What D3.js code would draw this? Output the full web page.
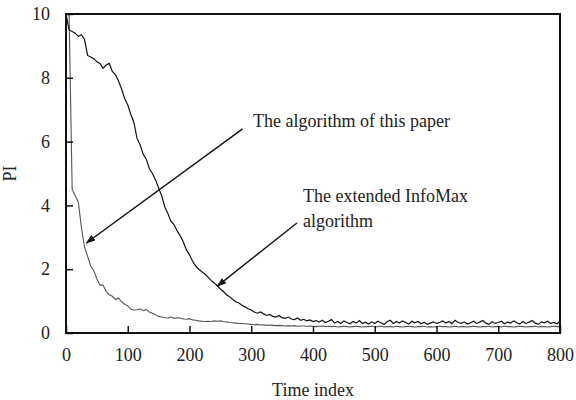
<!DOCTYPE html>
<html>
<head>
<meta charset="utf-8">
<script src="https://cdn.jsdelivr.net/npm/d3@7"></script>
<style>
  body { margin: 0; background: #fff; }
  text { font-family: "Liberation Serif", "Times New Roman", serif; fill: #222; }
</style>
</head>
<body>
<script>
// time index, one sample every 5 steps
const timeIndex = d3.range(0, 805, 5);

// extended InfoMax (dark curve)
const infomax = [
  10, 9.5, 9.45, 9.4, 9.3, 9.35, 9.2, 8.7, 8.65, 8.6,
  8.5, 8.45, 8.3, 8.4, 8.45, 8.2, 8.1, 7.9, 7.65, 7.35,
  7.15, 6.85, 6.6, 6.1, 5.9, 5.6, 5.45, 5.15, 5.0, 4.8,
  4.55, 4.3, 3.95, 3.75, 3.5, 3.4, 3.2, 3.05, 2.85, 2.6,
  2.45, 2.25, 2.1, 2.0, 1.92, 1.85, 1.75, 1.65, 1.57, 1.48,
  1.38, 1.3, 1.2, 1.14, 1.05, 0.98, 0.94, 0.87, 0.82, 0.76,
  0.72, 0.66, 0.62, 0.66, 0.6, 0.55, 0.58, 0.52, 0.5, 0.55,
  0.48, 0.46, 0.5, 0.44, 0.42, 0.47, 0.4, 0.43, 0.38, 0.41,
  0.36, 0.39, 0.34, 0.4, 0.33, 0.37, 0.42, 0.31, 0.36, 0.3,
  0.38, 0.33, 0.29, 0.36, 0.31, 0.39, 0.3, 0.34, 0.28, 0.35,
  0.3, 0.37, 0.32, 0.27, 0.35, 0.4, 0.3, 0.36, 0.31, 0.38,
  0.33, 0.28, 0.37, 0.32, 0.36, 0.29, 0.34, 0.27, 0.31, 0.35,
  0.3, 0.33, 0.38, 0.31, 0.36, 0.29, 0.4, 0.33, 0.3, 0.35,
  0.28, 0.32, 0.37, 0.3, 0.34, 0.39, 0.31, 0.27, 0.35, 0.3,
  0.33, 0.37, 0.29, 0.34, 0.31, 0.38, 0.32, 0.28, 0.36, 0.3,
  0.34, 0.39, 0.31, 0.27, 0.35, 0.32, 0.37, 0.3, 0.33, 0.29,
  0.36
];

// algorithm of this paper (grey curve)
const proposed = [
  10, 10, 4.5, 4.3, 4.1, 3.3, 2.7, 2.4, 2.1, 1.95,
  1.7, 1.5, 1.5, 1.3, 1.2, 1.15, 1.05, 1.1, 0.98, 0.9,
  0.85, 0.75, 0.72, 0.73, 0.76, 0.7, 0.74, 0.66, 0.62, 0.57,
  0.52, 0.5, 0.48, 0.47, 0.5, 0.46, 0.48, 0.47, 0.44, 0.43,
  0.45, 0.41, 0.4, 0.38, 0.37, 0.36, 0.37, 0.36, 0.38, 0.37,
  0.38, 0.36, 0.35, 0.33, 0.32, 0.31, 0.3, 0.3, 0.29, 0.28,
  0.27, 0.26, 0.27, 0.25, 0.26, 0.24, 0.25, 0.24, 0.23, 0.24,
  0.23, 0.22, 0.23, 0.22, 0.23, 0.21, 0.22, 0.22, 0.21, 0.22,
  0.21, 0.2, 0.21, 0.22, 0.2, 0.21, 0.2, 0.21, 0.19, 0.2,
  0.21, 0.2, 0.19, 0.2, 0.21, 0.2, 0.19, 0.2, 0.2, 0.21,
  0.19, 0.2, 0.21, 0.19, 0.2, 0.2, 0.19, 0.21, 0.2, 0.19,
  0.2, 0.21, 0.2, 0.19, 0.2, 0.2, 0.21, 0.19, 0.2, 0.19,
  0.2, 0.21, 0.2, 0.2, 0.19, 0.2, 0.21, 0.19, 0.2, 0.2,
  0.19, 0.2, 0.21, 0.2, 0.19, 0.2, 0.2, 0.21, 0.19, 0.2,
  0.2, 0.19, 0.21, 0.2, 0.2, 0.19, 0.2, 0.21, 0.2, 0.19,
  0.2, 0.2, 0.21, 0.19, 0.2, 0.2, 0.19, 0.2, 0.21, 0.2,
  0.2
];

const xTicks = [0, 100, 200, 300, 400, 500, 600, 700, 800];
const yTicks = [0, 2, 4, 6, 8, 10];

// annotations in data units
const notes = [
  { lines: ['The algorithm of this paper'], tx: 303, ty: 6.46, from: [286, 6.4], to: [33, 2.82] },
  { lines: ['The extended InfoMax', 'algorithm'], tx: 384, ty: 4.1, from: [374, 3.45], to: [245, 1.47] }
];

const width = 576, height = 400;
const margin = { top: 14, right: 16, bottom: 67, left: 66 };
const fontSize = 18;

const svg = d3.select('body').append('svg').attr('width', width).attr('height', height);

const x = d3.scaleLinear().domain([0, 800]).range([margin.left, width - margin.right]);
const y = d3.scaleLinear().domain([0, 10]).range([height - margin.bottom, margin.top]);

svg.append('defs').append('marker')
  .attr('id', 'arrow')
  .attr('viewBox', '0 0 10 10')
  .attr('refX', 9).attr('refY', 5)
  .attr('markerWidth', 7).attr('markerHeight', 7)
  .attr('orient', 'auto')
  .append('path').attr('d', 'M0,1.5 L10,5 L0,8.5 Z').attr('fill', '#111');

svg.append('clipPath').attr('id', 'plot')
  .append('rect')
  .attr('x', x(0)).attr('y', y(10))
  .attr('width', x(800) - x(0)).attr('height', y(0) - y(10));

const line = d3.line().x((d, i) => x(timeIndex[i])).y((d) => y(d));

const g = svg.append('g').attr('clip-path', 'url(#plot)');
g.append('path').datum(proposed)
  .attr('fill', 'none').attr('stroke', '#555').attr('stroke-width', 1.1).attr('d', line);
g.append('path').datum(infomax)
  .attr('fill', 'none').attr('stroke', '#111').attr('stroke-width', 1.2).attr('d', line);

// axes with inward ticks
const styleAxis = (a) => {
  a.select('.domain').remove();
  a.selectAll('line').attr('stroke', '#111').attr('stroke-width', 1.5);
  a.selectAll('text').attr('font-size', fontSize).attr('font-family', 'Liberation Serif').attr('fill', '#333');
};

svg.append('g')
  .attr('transform', `translate(0, ${y(0)})`)
  .call(d3.axisBottom(x).tickValues(xTicks).tickSize(-7).tickPadding(15).tickSizeOuter(0))
  .call(styleAxis);

svg.append('g')
  .attr('transform', `translate(${x(0)}, 0)`)
  .call(d3.axisLeft(y).tickValues(yTicks).tickSize(-7).tickPadding(16).tickSizeOuter(0))
  .call(styleAxis);

// frame
svg.append('rect')
  .attr('x', x(0)).attr('y', y(10))
  .attr('width', x(800) - x(0)).attr('height', y(0) - y(10))
  .attr('fill', 'none').attr('stroke', '#111').attr('stroke-width', 2);

// axis titles
svg.append('text')
  .attr('x', (x(0) + x(800)) / 2).attr('y', 396)
  .attr('text-anchor', 'middle').attr('font-size', fontSize)
  .text('Time index');

svg.append('text')
  .attr('transform', `translate(16, ${(y(0) + y(10)) / 2}) rotate(-90)`)
  .attr('text-anchor', 'middle').attr('font-size', fontSize)
  .text('PI');

// annotations
notes.forEach((n) => {
  svg.append('line')
    .attr('x1', x(n.from[0])).attr('y1', y(n.from[1]))
    .attr('x2', x(n.to[0])).attr('y2', y(n.to[1]))
    .attr('stroke', '#111').attr('stroke-width', 1.4)
    .attr('marker-end', 'url(#arrow)');
  n.lines.forEach((t, i) => {
    svg.append('text')
      .attr('x', x(n.tx)).attr('y', y(n.ty) + i * 25)
      .attr('font-size', fontSize)
      .text(t);
  });
});
</script>
</body>
</html>
